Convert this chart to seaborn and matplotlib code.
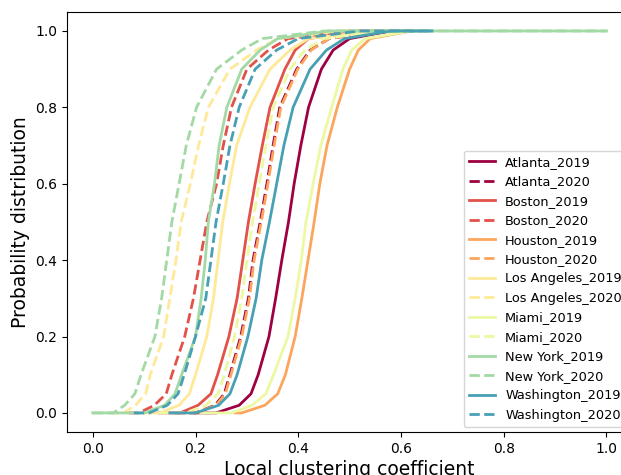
import matplotlib
matplotlib.use('Agg')
from matplotlib import pyplot as plt
import numpy as np
import pandas as pd
import seaborn as sns

# Probability levels
# (first two: data minimum and lift-off point, last one: end of the flat tail)
levels = [0.0, 0.0, 0.02, 0.05, 0.1, 0.2, 0.3, 0.4, 0.5, 0.6, 0.7, 0.8, 0.9, 0.95, 0.98, 1.0, 1.0]

# Clustering coefficient at each probability level
atlanta_2019 = [0.20, 0.24, 0.285, 0.308, 0.322, 0.343, 0.356, 0.368, 0.381, 0.392, 0.405, 0.420, 0.445, 0.468, 0.50, 0.58, 0.62]
atlanta_2020 = [0.16, 0.20, 0.238, 0.256, 0.267, 0.288, 0.303, 0.312, 0.326, 0.339, 0.351, 0.364, 0.397, 0.423, 0.46, 0.56, 0.62]
boston_2019 = [0.13, 0.17, 0.205, 0.230, 0.243, 0.265, 0.281, 0.292, 0.303, 0.316, 0.330, 0.345, 0.374, 0.394, 0.42, 0.52, 0.62]
boston_2020 = [0.07, 0.09, 0.120, 0.143, 0.154, 0.179, 0.196, 0.209, 0.222, 0.241, 0.254, 0.270, 0.300, 0.342, 0.38, 0.50, 0.62]
houston_2019 = [0.277, 0.29, 0.335, 0.360, 0.375, 0.394, 0.407, 0.419, 0.431, 0.442, 0.456, 0.476, 0.500, 0.517, 0.54, 0.62, 0.64]
houston_2020 = [0.16, 0.20, 0.240, 0.258, 0.269, 0.290, 0.305, 0.314, 0.328, 0.341, 0.353, 0.366, 0.399, 0.425, 0.46, 0.56, 0.62]
la_2019 = [0.10, 0.13, 0.168, 0.188, 0.200, 0.222, 0.235, 0.244, 0.253, 0.266, 0.280, 0.306, 0.345, 0.384, 0.42, 0.55, 0.62]
la_2020 = [0.03, 0.06, 0.083, 0.103, 0.112, 0.138, 0.150, 0.162, 0.172, 0.190, 0.206, 0.225, 0.267, 0.319, 0.36, 0.48, 0.62]
miami_2019 = [0.21, 0.27, 0.310, 0.337, 0.352, 0.380, 0.394, 0.406, 0.415, 0.429, 0.444, 0.465, 0.487, 0.504, 0.53, 0.62, 0.64]
miami_2020 = [0.13, 0.18, 0.220, 0.244, 0.256, 0.276, 0.290, 0.300, 0.311, 0.324, 0.337, 0.351, 0.384, 0.413, 0.45, 0.56, 0.62]
ny_2019 = [0.0, 0.10, 0.140, 0.160, 0.173, 0.200, 0.211, 0.219, 0.225, 0.237, 0.246, 0.261, 0.290, 0.326, 0.36, 0.46, 1.0]
ny_2020 = [0.0, 0.04, 0.062, 0.082, 0.094, 0.121, 0.134, 0.144, 0.154, 0.168, 0.182, 0.202, 0.241, 0.290, 0.33, 0.45, 1.0]
wash_2019 = [0.15, 0.20, 0.245, 0.267, 0.281, 0.302, 0.318, 0.329, 0.344, 0.358, 0.372, 0.390, 0.423, 0.455, 0.49, 0.58, 0.66]
wash_2020 = [0.08, 0.11, 0.145, 0.166, 0.178, 0.200, 0.220, 0.230, 0.240, 0.254, 0.267, 0.285, 0.316, 0.358, 0.40, 0.52, 0.66]

cities = ['Atlanta', 'Boston', 'Houston', 'Los Angeles', 'Miami', 'New York', 'Washington']
series = [
    (atlanta_2019, atlanta_2020),
    (boston_2019, boston_2020),
    (houston_2019, houston_2020),
    (la_2019, la_2020),
    (miami_2019, miami_2020),
    (ny_2019, ny_2020),
    (wash_2019, wash_2020),
]

colors = [plt.cm.Spectral(i / 7) for i in range(7)]

fig = plt.figure(figsize=(6.21, 4.75), dpi=100)
ax = fig.add_axes([0.108, 0.0905, 0.91, 0.8845])

for city, color, (v19, v20) in zip(cities, colors, series):
    for year, vals, ls in (('2019', v19, '-'), ('2020', v20, '--')):
        df = pd.DataFrame({'x': vals, 'p': levels})
        sns.lineplot(data=df, x='x', y='p', color=color, linestyle=ls,
                     linewidth=2, estimator=None, sort=False,
                     label=f'{city}_{year}', ax=ax)

ax.set_xlabel('Local clustering coefficient', fontsize=13.5, labelpad=3)
ax.set_ylabel('Probability distribution', fontsize=13.5)
ax.set_xticks(np.arange(0, 1.01, 0.2))
ax.set_yticks(np.arange(0, 1.01, 0.2))
ax.tick_params(labelsize=10)
ax.legend(loc='lower right', fontsize=9.3, borderaxespad=0.4)

fig.savefig('out.png', dpi=100)
